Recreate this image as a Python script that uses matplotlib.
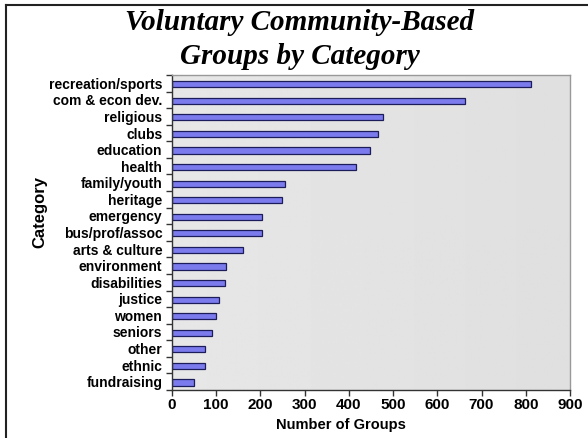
import numpy as np
import matplotlib
matplotlib.use("Agg")
import matplotlib.pyplot as plt
from matplotlib.lines import Line2D

categories = ["recreation/sports", "com & econ dev.", "religious", "clubs", "education",
              "health", "family/youth", "heritage", "emergency", "bus/prof/assoc",
              "arts & culture", "environment", "disabilities", "justice", "women",
              "seniors", "other", "ethnic", "fundraising"]
groups = [812, 662, 477, 465, 447, 416, 256, 248, 203, 203,
          160, 122, 120, 107, 99, 90, 74, 74, 50]
xticks = [0, 100, 200, 300, 400, 500, 600, 700, 800, 900]

fig = plt.figure(figsize=(5.88, 4.38), dpi=100)
ax = fig.add_axes([172/588, 1-390/438, 398/588, 315/438])

# gradient background in plot area
grad = np.linspace(0.905, 0.875, 256).reshape(1, -1)
ax.imshow(grad, cmap="gray", vmin=0, vmax=1, aspect="auto",
          extent=[0, 900, 18.5, -0.5], zorder=0)

y = np.arange(len(categories))
ax.barh(y + 0.05, groups, height=0.37, color="#7b7bee", edgecolor="#1c1c5a",
        linewidth=0.9, zorder=2)

ax.set_xlim(0, 900)
ax.set_ylim(18.5, -0.5)
ax.set_xticks(xticks)
ax.set_xticklabels([str(t) for t in xticks], fontsize=11, fontweight="bold",
                   family="Liberation Sans")
ax.set_yticks(y)
ax.set_yticklabels(categories, fontsize=10, fontweight="bold", family="Liberation Sans")
ax.set_yticks(np.arange(-0.5, 18.6, 1), minor=True)
ax.tick_params(axis="y", which="major", length=0, pad=7)
ax.tick_params(axis="y", which="minor", length=4, width=1, color="#333333")
ax.tick_params(axis="x", length=4, width=1, color="#333333", pad=2)

for s in ["top", "right"]:
    ax.spines[s].set_color("#999999")
    ax.spines[s].set_linewidth(1)
for s in ["left", "bottom"]:
    ax.spines[s].set_color("#333333")
    ax.spines[s].set_linewidth(1)

fig.text(341/588, 1-425/438, "Number of Groups", ha="center", va="center",
         fontsize=10.5, fontweight="bold", family="Liberation Sans")
fig.text(40/588, 1-212/438, "Category", ha="center", va="center", rotation=90,
         fontsize=12, fontweight="bold", family="Liberation Sans")

fig.text(300/588, 1-22/438, "Voluntary Community-Based", ha="center", va="center",
         fontsize=21, fontweight="bold", style="italic", family="Liberation Serif")
fig.text(300/588, 1-57/438, "Groups by Category", ha="center", va="center",
         fontsize=21, fontweight="bold", style="italic", family="Liberation Serif")

# frame lines on top and left of the figure
fig.add_artist(Line2D([6/588, 1], [1-5/438, 1-5/438], color="#222222", linewidth=1.5))
fig.add_artist(Line2D([6/588, 6/588], [0, 1-5/438], color="#222222", linewidth=1.5))

fig.savefig("out.png", dpi=100)
